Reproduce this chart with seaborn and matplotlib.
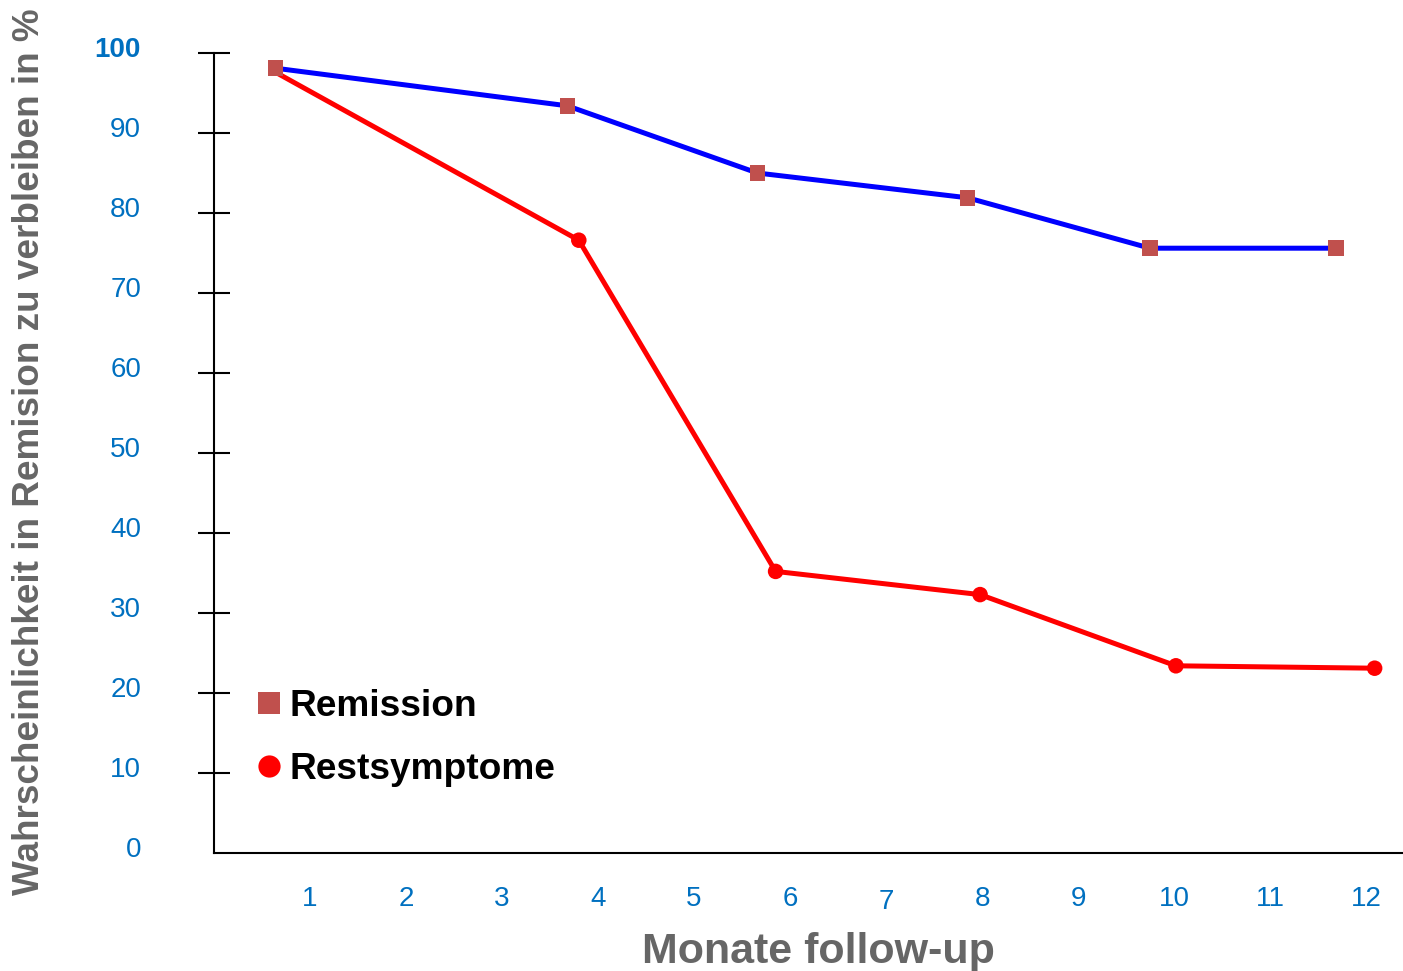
import matplotlib
matplotlib.use("Agg")
import matplotlib.pyplot as plt
import matplotlib.transforms as mtransforms
from matplotlib.lines import Line2D
import seaborn as sns
import pandas as pd

# ---- data ----
rem_x = [0.64, 3.68, 5.66, 7.85, 9.75, 11.69]
rem_y = [98.1, 93.4, 85.0, 81.9, 75.6, 75.6]
rest_x = [0.64, 3.80, 5.85, 7.98, 10.02, 12.09]
rest_y = [97.6, 76.6, 35.2, 32.3, 23.4, 23.1]
x_ticks = [1, 2, 3, 4, 5, 6, 7, 8, 9, 10, 11, 12]
y_ticks = [0, 10, 20, 30, 40, 50, 60, 70, 80, 90, 100]
series_names = ["Remission", "Restsymptome"]
x_label = "Monate follow-up"
y_label = "Wahrscheinlichkeit in Remision zu verbleiben in %"

sns.set_style("white")
plt.rcParams["font.family"] = ["Liberation Sans", "DejaVu Sans"]

W, H = 1403, 971
fig = plt.figure(figsize=(W / 100, H / 100), dpi=100)
ax = fig.add_axes([214 / W, 1 - 853 / H, (W - 214) / W, (853 - 53) / H])

df_rem = pd.DataFrame({"x": rem_x, "y": rem_y})
df_rest = pd.DataFrame({"x": rest_x, "y": rest_y})

sns.lineplot(data=df_rest, x="x", y="y", ax=ax, color="#FF0000", lw=3.6,
             sort=False, estimator=None)
sns.lineplot(data=df_rem, x="x", y="y", ax=ax, color="#0000FF", lw=3.6,
             sort=False, estimator=None)
sns.scatterplot(data=df_rest.iloc[1:], x="x", y="y", ax=ax, color="#FF0000",
                marker="o", s=125, edgecolor="none", zorder=5)
sns.scatterplot(data=df_rem, x="x", y="y", ax=ax, color="#C0504D",
                marker="s", s=125, edgecolor="none", zorder=6)

ax.set_xlim(0, (W - 214) / 96)
ax.set_ylim(0, 100)

for s in ["top", "right"]:
    ax.spines[s].set_visible(False)
for s in ["left", "bottom"]:
    ax.spines[s].set_color("black")
    ax.spines[s].set_linewidth(1.5)

ax.set_xticks(x_ticks)
ax.set_xticklabels([str(t) for t in x_ticks])
ax.set_yticks(y_ticks)
ax.set_yticklabels([str(t) for t in y_ticks])

ax.tick_params(axis="x", direction="out", length=11, width=1.5, color="black",
               labelsize=20, labelcolor="#0070C0", pad=13)
ax.tick_params(axis="y", direction="inout", length=23, width=1.5, color="black",
               labelsize=20, labelcolor="#0070C0", pad=41, left=True)
ax.yaxis.get_major_ticks()[0].tick1line.set_visible(False)

off = mtransforms.ScaledTranslation(0, 4 / 72, fig.dpi_scale_trans)
for lab in ax.get_yticklabels():
    lab.set_transform(lab.get_transform() + off)
    if lab.get_text() == "100":
        lab.set_fontweight("bold")
for lab in ax.get_xticklabels():
    if lab.get_text() == "7":
        lab.set_transform(lab.get_transform() +
                          mtransforms.ScaledTranslation(0, -2 / 72, fig.dpi_scale_trans))

ax.set_xlabel(x_label, fontsize=31, fontweight="bold", color="#666666", labelpad=12)
ax.xaxis.label.set_x((818 - 214) / (W - 214))
ax.set_ylabel("")
fig.text(30 / W, 1 - 452 / H, y_label, rotation=90, fontsize=26.6,
         fontweight="bold", color="#666666", ha="center", va="center")

handles = [
    Line2D([], [], ls="none", marker="s", color="#C0504D", markersize=16,
           markeredgewidth=0),
    Line2D([], [], ls="none", marker="o", color="#FF0000", markersize=16,
           markeredgewidth=0),
]
leg = ax.legend(handles, series_names, loc="upper left",
                bbox_to_anchor=(236 / W, 1 - 674 / H),
                bbox_transform=fig.transFigure, frameon=False,
                prop={"size": 26.7, "weight": "bold"}, handletextpad=0.05,
                labelspacing=0.75, handlelength=1.0, borderaxespad=0)
for t in leg.get_texts():
    t.set_color("black")

fig.savefig("out.png", dpi=100)
